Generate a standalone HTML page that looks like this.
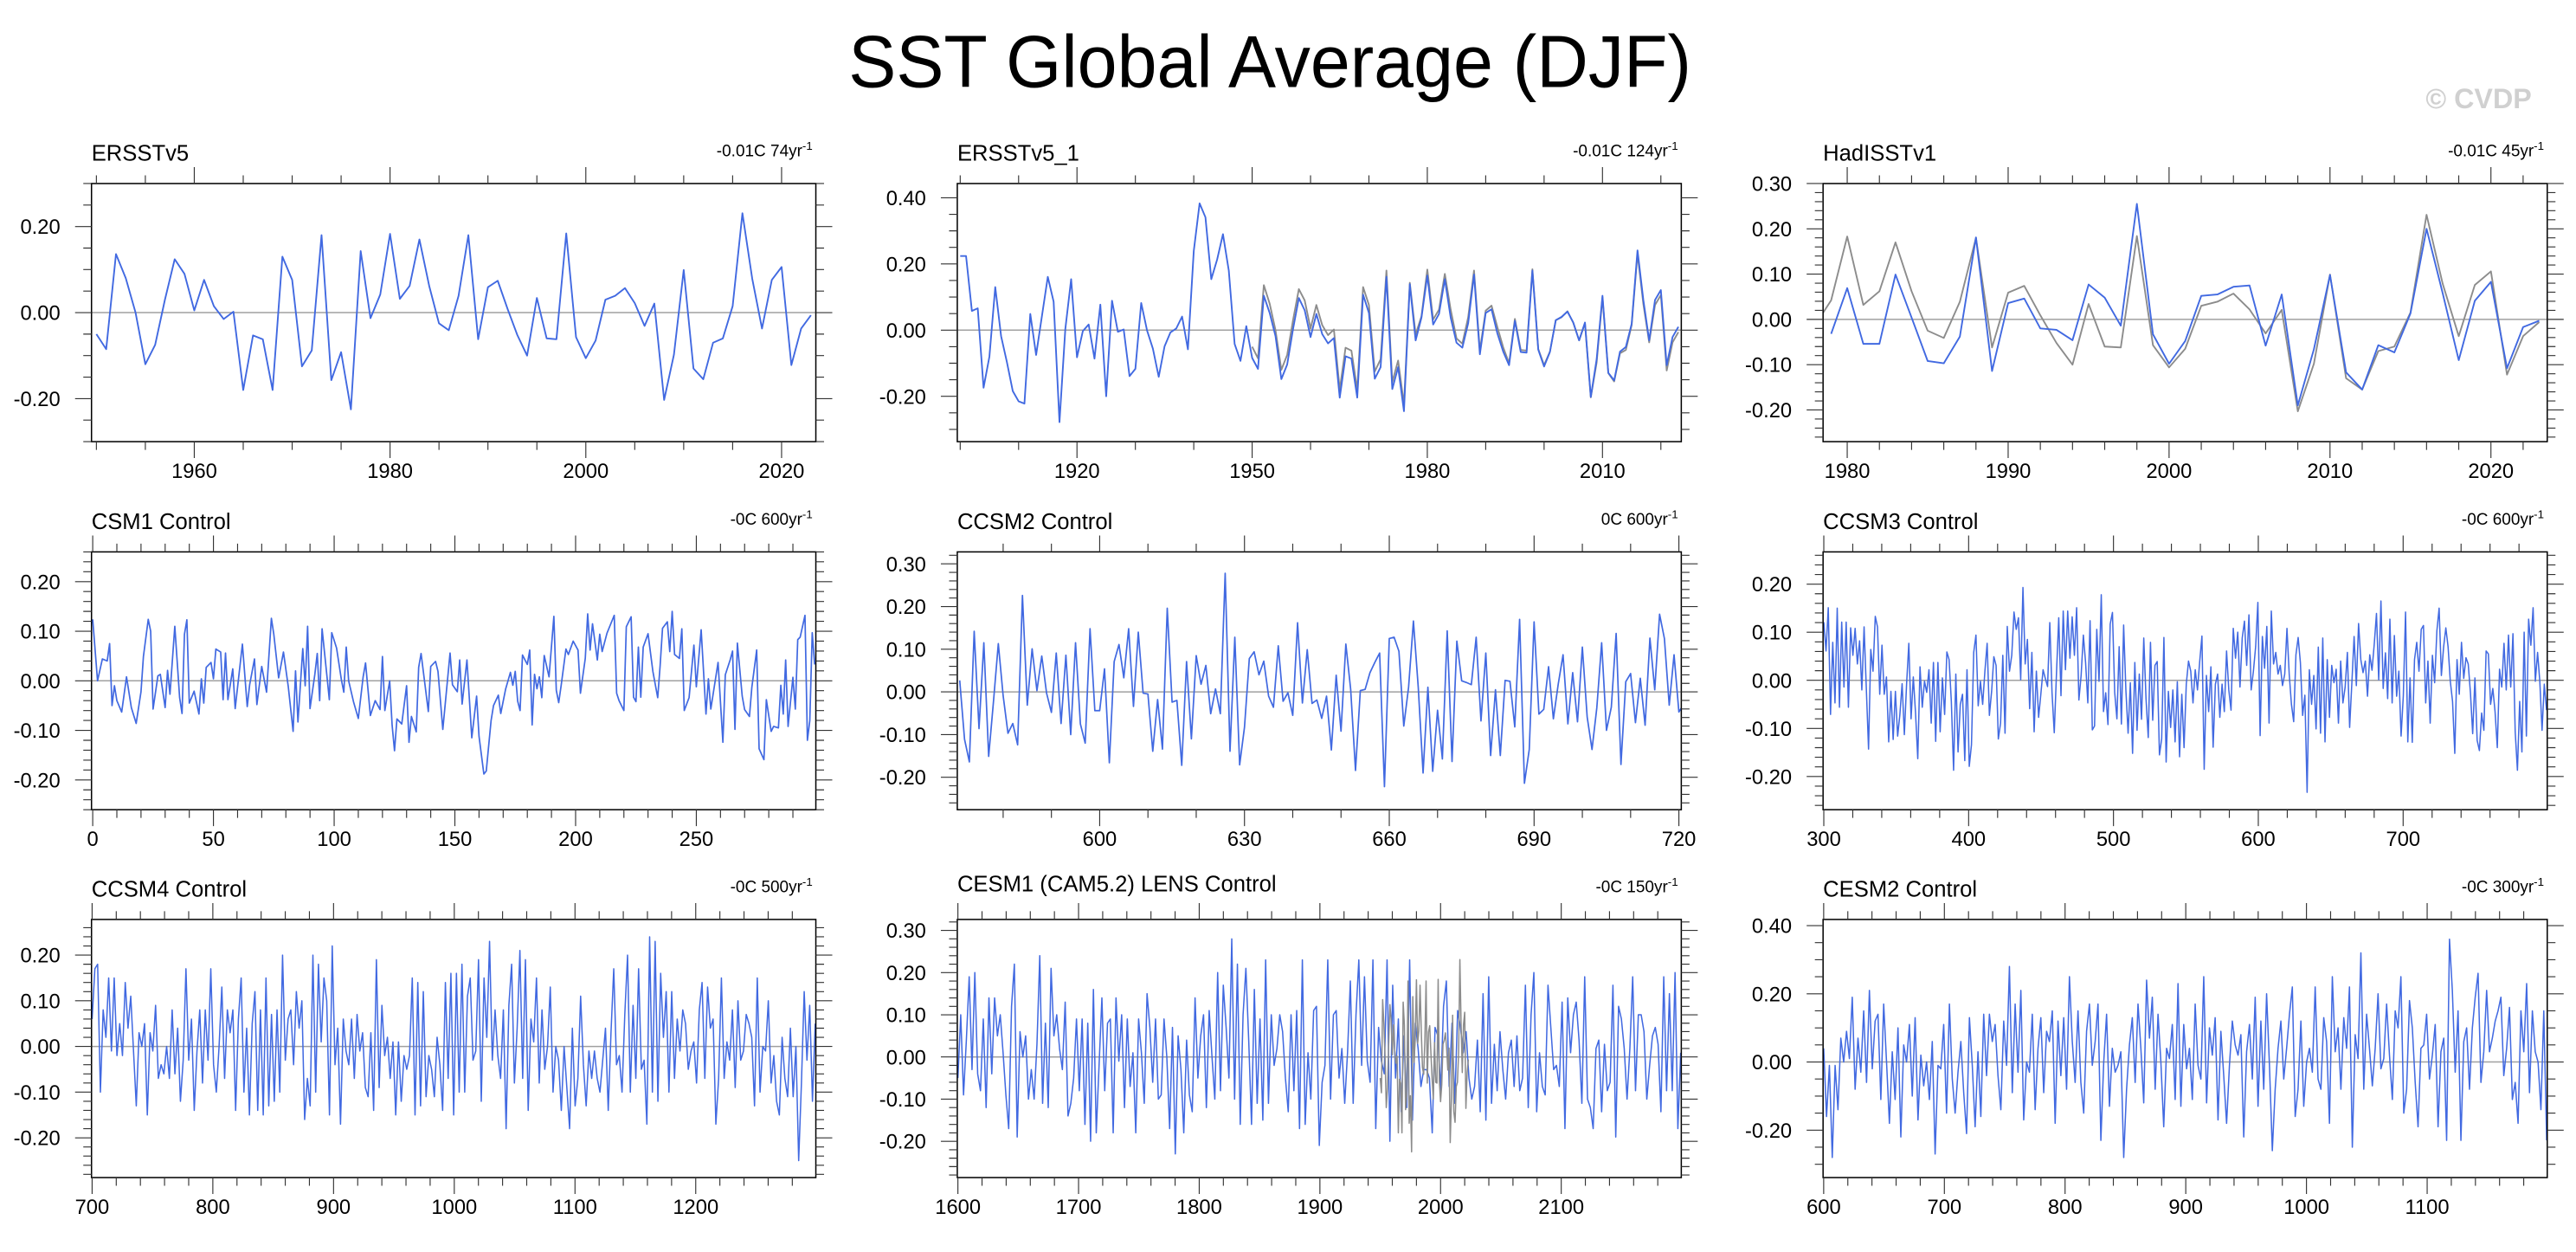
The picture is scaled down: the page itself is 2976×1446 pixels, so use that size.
<!DOCTYPE html>
<html><head><meta charset="utf-8"><title>SST Global Average (DJF)</title>
<style>html,body{margin:0;padding:0;background:#fff}svg{display:block}</style></head>
<body>
<svg id="fig" xmlns="http://www.w3.org/2000/svg" width="2976" height="1446" viewBox="0 0 1568 762" preserveAspectRatio="none" font-family="'Liberation Sans', Arial, sans-serif">
<rect x="0" y="0" width="1568" height="762" fill="#fff"/>
<text x="773" y="53" font-size="45" text-anchor="middle" textLength="513" lengthAdjust="spacingAndGlyphs" fill="#000">SST Global Average (DJF)</text>
<text x="1541" y="66" font-size="17" font-weight="bold" text-anchor="end" fill="#d0d0d0">© CVDP</text>
</svg>
<script>
// ---------------- data ----------------
const ersstStart = 1950;
const ersstVals = [-0.05,-0.085,0.136,0.08,0.0,-0.12,-0.075,0.03,0.124,0.09,0.005,0.076,0.015,-0.015,0.002,-0.18,-0.053,-0.062,-0.18,0.13,0.076,-0.125,-0.088,0.18,-0.157,-0.092,-0.225,0.143,-0.013,0.042,0.183,0.032,0.062,0.17,0.062,-0.025,-0.041,0.039,0.18,-0.062,0.059,0.074,0.009,-0.052,-0.1,0.034,-0.06,-0.062,0.184,-0.057,-0.106,-0.065,0.03,0.039,0.057,0.022,-0.031,0.021,-0.203,-0.098,0.099,-0.13,-0.155,-0.07,-0.06,0.015,0.231,0.079,-0.037,0.076,0.106,-0.122,-0.037,-0.006];

const ersst1Start = 1900;
const ersst1Vals = [0.224,0.224,0.058,0.066,-0.174,-0.08,0.13,-0.018,-0.097,-0.184,-0.215,-0.222,0.049,-0.075,0.043,0.161,0.086,-0.278,0.003,0.154,-0.082,-0.003,0.017,-0.086,0.077,-0.2,0.089,-0.005,0.002,-0.139,-0.117,0.082,-0.001,-0.056,-0.141,-0.049,-0.007,0.005,0.041,-0.058,0.239,0.383,0.341,0.154,0.213,0.29,0.18,-0.042,-0.093,0.012,-0.084,-0.117,0.104,0.052,-0.018,-0.148,-0.104,0.003,0.097,0.06,-0.021,0.049,-0.012,-0.04,-0.024,-0.204,-0.079,-0.086,-0.204,0.107,0.052,-0.147,-0.112,0.161,-0.178,-0.112,-0.245,0.139,-0.031,0.038,0.165,0.017,0.049,0.154,0.038,-0.038,-0.053,0.021,0.168,-0.073,0.052,0.063,-0.01,-0.065,-0.106,0.028,-0.066,-0.068,0.18,-0.059,-0.11,-0.066,0.03,0.04,0.056,0.023,-0.031,0.023,-0.202,-0.088,0.104,-0.129,-0.152,-0.065,-0.051,0.019,0.241,0.091,-0.031,0.091,0.121,-0.106,-0.021,0.01];

const hadStart = 1979;
const hadVals = [-0.032,0.069,-0.054,-0.054,0.099,0.004,-0.092,-0.097,-0.038,0.181,-0.114,0.036,0.046,-0.02,-0.023,-0.046,0.077,0.048,-0.014,0.255,-0.033,-0.098,-0.048,0.052,0.055,0.072,0.075,-0.058,0.055,-0.19,-0.066,0.098,-0.117,-0.155,-0.057,-0.073,0.013,0.2,0.058,-0.09,0.041,0.083,-0.108,-0.017,-0.003];

const csm1Years = [0,2,4,6,7,8,9,10,12,14,16,18,20,21,23,24,25,27,28,30,31,32,34,36,37,38,39,40,42,44,45,46,47,49,50,51,53,54,55,56,58,59,62,64,65,67,68,70,72,74,75,77,79,81,83,84,85,87,88,89,90,92,93,94,95,97,98,99,101,103,104,105,106,108,110,112,113,115,117,119,120,121,123,124,125,126,128,130,131,132,134,135,136,139,140,142,143,145,148,149,151,152,153,155,157,159,160,162,163,165,166,168,169,171,173,174,175,176,177,178,180,181,182,183,184,185,186,187,189,191,192,193,194,196,197,199,201,202,204,205,206,207,209,210,211,213,216,217,218,220,221,223,224,225,226,227,228,230,232,234,235,236,238,239,240,241,243,244,245,247,249,250,252,254,255,256,259,261,262,264,265,266,267,269,270,272,273,275,276,278,279,281,282,284,285,286,287,288,290,291,292,293,295,296,297,298,299];
const csm1Vals = [0.124,0,0.044,0.04,0.075,-0.05,-0.01,-0.04,-0.063,0.008,-0.054,-0.086,-0.022,0.049,0.124,0.1,-0.057,0.01,0.013,-0.054,0.021,-0.027,0.11,-0.034,-0.066,0.094,0.123,-0.045,-0.021,-0.067,0.004,-0.045,0.027,0.037,0.004,0.064,0.058,-0.038,0.056,-0.038,0.024,-0.056,0.074,-0.052,-0.008,0.044,-0.048,0.029,-0.023,0.126,0.094,0.006,0.058,-0.012,-0.102,0.02,-0.083,0.065,-0.01,0.11,-0.056,0.013,0.055,-0.04,0.105,0.01,-0.038,0.097,0.066,0.002,-0.023,0.068,0,-0.042,-0.076,0.008,0.036,-0.07,-0.04,-0.058,0.049,-0.06,0,-0.089,-0.141,-0.077,-0.087,-0.01,-0.124,-0.072,-0.103,0.027,0.055,-0.062,0.029,0.039,0.019,-0.098,0.056,-0.008,-0.022,0.042,-0.047,0.042,-0.115,-0.031,-0.112,-0.188,-0.182,-0.08,-0.05,-0.029,-0.066,-0.017,0.017,-0.009,0.019,-0.041,-0.06,0.052,0.033,0.062,-0.089,0.013,-0.016,0.008,-0.034,0.051,0.008,0.13,-0.019,-0.044,-0.01,0.064,0.053,0.08,0.062,-0.025,0.045,0.135,0.062,0.115,0.042,0.094,0.059,0.096,0.132,-0.025,-0.04,-0.06,0.109,0.129,-0.033,-0.042,0.068,-0.033,0.068,0.095,0.019,-0.034,0.03,0.106,0.119,0.059,0.14,0.053,0.045,0.105,-0.06,-0.034,0.072,-0.012,0.103,-0.067,0.004,-0.057,0.037,-0.124,0.012,0.042,0.06,-0.098,0.076,-0.031,-0.058,-0.072,-0.013,0.062,-0.137,-0.159,-0.038,-0.102,-0.092,-0.095,-0.009,-0.067,0.042,-0.092,0.007,-0.057,0.083,0.088,0.132,-0.12,-0.08,0.097,0.033];

const ccsm2Start = 571;
const ccsm2Vals = [0.027,-0.111,-0.164,0.142,-0.086,0.115,-0.151,-0.022,0.113,-0.009,-0.097,-0.074,-0.124,0.226,-0.031,0.101,0.003,0.084,-0.003,-0.048,0.091,-0.074,0.086,-0.1,0.115,-0.075,-0.12,0.148,-0.044,-0.044,0.054,-0.166,0.071,0.111,0.033,0.148,-0.034,0.14,-0.003,-0.005,-0.139,-0.018,-0.134,0.196,-0.024,-0.02,-0.172,0.071,-0.11,0.085,0.018,0.062,-0.051,0.007,-0.051,0.278,-0.139,0.128,-0.171,-0.083,0.078,0.094,0.04,0.072,-0.01,-0.036,0.108,-0.022,-0.002,-0.055,0.162,-0.026,0.099,-0.027,-0.019,-0.062,-0.01,-0.136,0.039,-0.092,0.112,0.006,-0.184,0.003,0.006,0.045,0.069,0.091,-0.222,0.125,0.128,0.095,-0.08,0.011,0.166,0.011,-0.19,0.011,-0.186,-0.043,-0.157,0.143,-0.163,0.119,0.026,0.022,0.017,0.128,-0.068,0.091,-0.149,0.005,-0.149,0.027,0.025,-0.082,0.17,-0.214,-0.135,0.164,-0.052,-0.041,0.059,-0.063,0.018,0.087,-0.075,0.045,-0.07,0.105,-0.059,-0.135,-0.037,0.115,-0.09,-0.036,0.137,-0.17,0.024,0.043,-0.072,0.032,-0.078,0.126,0.005,0.182,0.125,-0.031,0.087,-0.047,-0.029];

const ccsm3Start = 300, ccsm3End = 799;
const ccsm3Vals = [0.121,0.061,0.151,-0.071,0.079,-0.047,0.15,-0.056,0.121,-0.014,0.121,-0.056,0.109,0.052,0.108,0.034,0.082,-0.02,0.111,-0.017,-0.143,0.064,0.019,0.133,0.111,-0.029,0.073,-0.029,0.007,-0.128,-0.023,-0.123,-0.023,-0.116,-0.071,-0.007,-0.113,-0.008,0.077,-0.08,0.007,-0.068,-0.163,0.028,-0.056,-0.002,-0.025,0.022,-0.089,0.037,-0.127,0.037,-0.107,0.005,-0.071,0.059,0.043,-0.044,-0.187,0.013,-0.149,-0.05,-0.029,-0.167,0.022,-0.179,-0.134,0.058,0.094,-0.053,-0.002,-0.05,0.019,0.077,-0.073,-0.023,0.049,0.031,-0.122,-0.089,0.052,-0.11,0.112,0.019,0.052,0.142,0.106,0.13,0.001,0.193,0.034,0.085,-0.059,0.058,-0.107,0.019,-0.077,-0.029,0.022,0.004,-0.013,0.12,-0.026,-0.109,0.016,0.13,-0.032,0.144,0.022,0.144,0.046,0.132,0.052,0.151,-0.041,0.01,0.094,0.037,-0.047,0.124,-0.103,-0.095,0.106,-0.002,0.178,-0.065,-0.026,-0.092,0.117,0.141,-0.025,-0.08,0.07,-0.091,0.115,-0.02,-0.11,-0.005,-0.152,0.037,-0.104,0.013,-0.081,0.088,-0.038,-0.119,0.079,-0.083,0.031,0.039,-0.155,-0.122,0.089,-0.17,-0.023,-0.098,-0.02,-0.128,-0.003,-0.159,-0.029,-0.14,-0.008,0.04,0.019,-0.047,0.022,-0.02,0.039,0.092,-0.185,0.01,-0.065,0.028,-0.139,-0.008,0.013,-0.077,-0.008,-0.065,0.061,-0.02,-0.062,0.108,0.046,0.1,-0.014,0.088,0.123,0.031,0.136,-0.02,0.019,0.07,0.162,-0.115,0.091,0.025,0.112,-0.089,0.144,0.034,0.058,0.013,0.031,-0.011,0.013,0.108,0.013,-0.05,-0.086,0.053,0.089,0.037,-0.073,-0.031,-0.233,0.022,-0.05,0.01,-0.101,0.069,-0.11,0.088,-0.128,0.043,-0.077,0.031,-0.005,0.023,-0.089,0.04,-0.047,-0.014,0.058,-0.098,-0.005,0.091,-0.011,0.118,0.043,0.016,0.04,-0.033,0.053,0.021,0.075,0.139,0.001,0.165,-0.017,0.057,-0.038,0.127,-0.047,0.093,-0.033,0.019,-0.116,-0.032,0.142,-0.128,0.005,-0.129,0.043,0.079,0.019,0.106,0.114,-0.047,0.04,-0.089,0.052,-0.005,0.103,0.15,0.01,0.069,0.109,0.07,-0.002,-0.044,-0.152,0.043,-0.029,0.079,0.004,0.047,0.034,-0.026,-0.111,0.005,-0.125,-0.146,-0.068,-0.104,0.061,0.055,-0.05,-0.017,-0.065,-0.14,0.023,-0.014,0.077,-0.02,0.094,-0.014,0.097,-0.107,-0.187,-0.044,-0.149,0.1,-0.116,0.127,0.073,0.151,-0.002,0.058,-0.002,-0.104,-0.008,-0.062];

const ccsm4Start = 700, ccsm4End = 1299;
const ccsm4Vals = [0.06,0.17,0.18,-0.10,0.08,0.02,0.15,-0.01,0.15,-0.02,0.05,-0.02,0.14,0.04,0.11,-0.01,-0.13,0.03,0,0.05,-0.15,0.03,-0.01,0.09,-0.07,-0.04,-0.06,0,-0.07,0.08,-0.06,0.04,-0.12,-0.03,0.17,-0.03,0.06,-0.14,-0.01,0.08,-0.08,0.08,-0.03,0.17,-0.04,-0.10,0,0.13,-0.07,0.08,0.03,0.08,-0.14,0.06,0.15,-0.10,0.04,-0.15,0.05,0.12,-0.14,0.08,-0.15,0.15,-0.13,0.07,-0.12,0.08,-0.10,0.20,-0.03,0.06,0.08,-0.04,0.12,0.04,0.10,-0.16,-0.07,-0.13,0.20,-0.10,0.18,0.01,0.15,0.10,-0.15,0.22,-0.04,0.04,-0.17,0.06,-0.01,-0.04,0.06,-0.07,0.07,-0.01,0.03,-0.09,-0.11,0.03,-0.14,0.19,-0.09,0.09,-0.02,0.02,-0.07,0.01,-0.15,0.01,-0.12,-0.02,-0.05,-0.02,0.15,-0.15,0.14,-0.13,0.12,-0.11,-0.02,-0.05,-0.11,0.02,-0.04,-0.14,0.14,-0.07,0.16,-0.15,0.16,-0.10,0.18,-0.10,0.11,0.15,-0.03,-0.01,0.19,-0.12,0.15,0.02,0.23,-0.03,0.08,-0.02,-0.07,0.08,-0.18,0.09,0.18,-0.08,0.04,0.21,-0.07,0.19,-0.14,0.06,0.01,0.15,-0.08,0.08,-0.05,0,0.13,-0.10,0,-0.03,-0.14,0,-0.09,-0.18,0.04,-0.13,-0.07,0.11,-0.04,-0.13,-0.01,-0.07,-0.01,-0.07,-0.10,-0.03,0.04,-0.14,0.03,0.17,-0.04,-0.02,-0.10,0.07,0.20,-0.10,0.09,-0.07,0.17,-0.05,-0.03,-0.17,0.24,-0.10,0.23,-0.12,0.16,0.02,0.12,-0.10,0.12,-0.07,0.06,-0.01,0.08,0.05,-0.05,-0.01,0.01,-0.08,0.08,0.14,-0.07,0.13,0.04,0.06,-0.17,-0.07,0.15,-0.07,0.01,-0.03,0.08,-0.09,0.10,-0.03,-0.01,0.07,0.05,0.02,-0.13,0.15,-0.10,0,-0.01,0.10,-0.08,-0.02,-0.12,-0.15,0.02,-0.07,-0.11,0.04,-0.11,0,-0.25,-0.08,0.12,-0.03,0.09,-0.12,0.05];

const cesm1Start = 1600, cesm1End = 2199;
const cesm1Vals = [-0.05,0.10,-0.09,0.04,0.19,-0.03,0.20,-0.04,-0.08,0.09,-0.12,0.14,-0.04,0.14,0.05,0.10,0.01,-0.09,-0.17,0.12,0.22,-0.19,0.06,0,0.05,-0.10,-0.03,-0.10,0.03,0.24,-0.11,0.08,-0.12,0.21,0.05,0.10,0.02,-0.03,0.13,-0.14,-0.11,-0.05,0.09,-0.08,0.09,-0.16,0.08,-0.20,0.16,-0.18,-0.02,0.14,-0.08,0.08,0.09,-0.18,0.14,-0.01,0.10,-0.12,0.09,-0.07,0.01,-0.18,0.09,0.01,-0.11,0.15,0.07,-0.06,0.09,-0.10,-0.09,0.09,0,-0.17,0.07,-0.23,0.05,-0.03,-0.18,0.04,-0.09,-0.13,0.14,-0.05,0.05,0.10,-0.12,0.11,0,-0.10,0.20,-0.08,0.17,0.07,-0.05,0.28,-0.10,0.22,-0.16,0.10,0.21,0.04,-0.16,0.16,-0.11,0.09,-0.15,0.23,-0.11,0.10,-0.02,0.02,0.10,0.06,-0.05,-0.13,0.10,-0.08,0.11,-0.17,0.23,-0.16,0.01,-0.10,0.11,0.12,-0.21,-0.06,-0.02,0.23,-0.10,0.10,0.11,-0.05,0.02,-0.11,0.01,0.18,-0.11,0.10,0.23,-0.02,0.19,-0.01,-0.06,0.23,-0.17,0.07,-0.01,-0.04,0.23,-0.20,0.17,-0.05,0.09,-0.13,0.05,-0.12,0.23,-0.15,0.08,0.02,-0.07,-0.03,-0.03,-0.05,-0.18,0.07,0.05,-0.08,0.12,0.18,-0.07,0.08,-0.11,0.11,0.07,0.01,0.06,-0.05,-0.10,-0.07,0.04,-0.13,0.15,-0.15,0.19,-0.11,0.03,-0.08,0.06,-0.03,-0.10,0.01,0.04,-0.07,0.05,-0.08,-0.05,0.17,-0.12,0.10,0.20,-0.13,0.01,-0.07,-0.09,0.17,0.07,-0.03,-0.02,-0.07,0.13,-0.17,0.14,0.01,0.10,0.13,0.04,-0.11,0.19,-0.10,-0.12,-0.17,0.02,0.04,-0.13,0.03,-0.08,-0.06,0.17,-0.19,0.12,0.09,0.02,-0.10,0.02,0.19,-0.08,0.10,0.10,0.06,-0.10,-0.02,0.05,0.07,0.03,-0.13,0.19,-0.08,0.15,-0.08,0.20,-0.17,0.01];

const cesm2Start = 600, cesm2End = 1199;
const cesm2Vals = [0.04,-0.16,-0.01,-0.28,-0.01,-0.14,0.07,0,0.09,0.01,0.19,-0.08,0.07,-0.03,0.15,-0.06,0.21,-0.02,0.12,0.14,-0.11,0.17,0,-0.18,0.03,-0.11,0.10,-0.22,0.05,0,0.11,-0.10,0.13,-0.17,0.02,-0.07,0,-0.11,0.06,-0.27,-0.01,-0.02,0.11,-0.15,0.17,-0.05,-0.15,-0.03,0.06,-0.09,-0.21,0.13,-0.01,-0.19,0.03,-0.16,0.14,-0.04,0.14,0.06,0.11,-0.04,-0.14,0.12,-0.01,0.28,-0.09,0.17,-0.03,0.21,-0.17,0,-0.03,0.14,-0.14,0.04,0.13,-0.09,0.09,0.06,0.15,-0.18,0.12,-0.04,0.13,-0.08,0.25,0.06,-0.06,0.15,-0.06,-0.15,0.09,0.17,-0.01,0.06,0.17,-0.23,0,0.14,-0.13,0.04,-0.03,-0.01,0.03,-0.28,-0.08,0.05,0.13,-0.06,0.17,0.04,-0.12,0.24,0.07,0.19,-0.08,0.14,0,-0.19,0.04,0.01,0.11,-0.11,0.23,-0.13,0.11,-0.02,0.04,-0.11,0.17,-0.01,-0.05,0.25,-0.12,0.10,0.02,0.13,-0.17,0.09,-0.04,-0.18,-0.01,0.12,0.05,0.02,0.08,-0.22,0.03,0.11,-0.05,0.19,-0.13,0.12,-0.08,0.20,-0.01,-0.26,-0.08,0.04,0.12,-0.05,0.04,0.14,0.22,-0.16,-0.08,0.12,-0.13,0,0.04,-0.03,0.22,-0.05,-0.08,0.13,0.06,-0.18,0.25,0.03,0.10,-0.08,0.13,0.04,0.22,-0.25,0.08,0.01,0.32,-0.08,0.14,0.04,-0.07,0.04,0.20,-0.02,0.01,0.17,0.02,-0.11,0.15,0.10,0.25,-0.15,-0.08,0.18,0.10,-0.06,-0.19,0.04,0.05,0.14,-0.05,0.02,0.11,-0.19,0.03,0.07,-0.23,0.36,0.21,-0.03,0.15,-0.23,0.06,0.10,-0.08,0.10,0.19,0.26,-0.06,0.03,0.21,0.03,0.07,0.12,0.15,0.19,-0.04,0.04,0.16,-0.11,-0.06,-0.18,0.15,0.03,0.23,-0.09,0.15,0.03,0,-0.14,0.15,-0.23];

// ---------------- rendering ----------------
const NS = 'http://www.w3.org/2000/svg';
const svg = document.getElementById('fig');
function mk(tag, parent) { const e = document.createElementNS(NS, tag); parent.appendChild(e); return e; }
function ticksFor(min, max, step) { const out = []; let v = Math.ceil((min - 1e-9) / step) * step; for (; v <= max + 1e-9; v += step) out.push(Math.round(v * 10000) / 10000); return out; }
function seqYears(start, end, n) { const out = []; for (let i = 0; i < n; i++) out.push(n > 1 ? start + (end - start) * i / (n - 1) : start); return out; }
function startYears(start, n) { const out = []; for (let i = 0; i < n; i++) out.push(start + i); return out; }

const cols = [[55.7, 496.6], [582.7, 1023.4], [1109.7, 1550.5]];
const rows = [[111.7, 268.8], [335.9, 492.8], [559.6, 716.7]];

const panels = [
 {name:'ersstv5', title:'ERSSTv5', trend:'-0.01C 74yr', c:0, r:0, x:[1949.5,2023.5], y:[-0.3,0.3], xMaj:20, xMin:5, yMaj:0.2, yMin:0.05, lw:1.0,
  series:[{name:'ersstv5-line', x:startYears(ersstStart, ersstVals.length), v:ersstVals, color:'#4169e1'}]},
 {name:'ersstv5-1', title:'ERSSTv5_1', trend:'-0.01C 124yr', c:1, r:0, x:[1899.5,2023.5], y:[-0.337,0.443], xMaj:30, xMin:10, yMaj:0.2, yMin:0.05, lw:1.0,
  series:[{name:'ersstv5-reference-line', x:startYears(ersstStart, ersstVals.length), v:ersstVals, color:'#8c8c8c'},
          {name:'ersstv5-1-line', x:startYears(ersst1Start, ersst1Vals.length), v:ersst1Vals, color:'#4169e1'}]},
 {name:'hadisstv1', title:'HadISSTv1', trend:'-0.01C 45yr', c:2, r:0, x:[1978.5,2023.5], y:[-0.27,0.30], xMaj:10, xMin:2, yMaj:0.1, yMin:0.02, lw:1.0,
  series:[{name:'ersstv5-reference-line', x:startYears(ersstStart, ersstVals.length), v:ersstVals, color:'#8c8c8c'},
          {name:'hadisstv1-line', x:startYears(hadStart, hadVals.length), v:hadVals, color:'#4169e1'}]},
 {name:'csm1-control', title:'CSM1 Control', trend:'-0C 600yr', c:0, r:1, x:[-0.5,299.5], y:[-0.26,0.26], xMaj:50, xMin:10, yMaj:0.1, yMin:0.02, lw:0.9,
  series:[{name:'csm1-line', x:csm1Years, v:csm1Vals, color:'#4169e1'}]},
 {name:'ccsm2-control', title:'CCSM2 Control', trend:'0C 600yr', c:1, r:1, x:[570.5,720.5], y:[-0.276,0.328], xMaj:30, xMin:10, yMaj:0.1, yMin:0.02, lw:0.9,
  series:[{name:'ccsm2-line', x:startYears(ccsm2Start, ccsm2Vals.length), v:ccsm2Vals, color:'#4169e1'}]},
 {name:'ccsm3-control', title:'CCSM3 Control', trend:'-0C 600yr', c:2, r:1, x:[299.5,799.5], y:[-0.269,0.267], xMaj:100, xMin:20, yMaj:0.1, yMin:0.02, lw:0.8,
  series:[{name:'ccsm3-line', x:seqYears(ccsm3Start, ccsm3End, ccsm3Vals.length), v:ccsm3Vals, color:'#4169e1'}]},
 {name:'ccsm4-control', title:'CCSM4 Control', trend:'-0C 500yr', c:0, r:2, x:[699.5,1299.5], y:[-0.287,0.278], xMaj:100, xMin:20, yMaj:0.1, yMin:0.02, lw:0.8,
  series:[{name:'ccsm4-line', x:seqYears(ccsm4Start, ccsm4End, ccsm4Vals.length), v:ccsm4Vals, color:'#4169e1'}]},
 {name:'cesm1-lens-control', title:'CESM1 (CAM5.2) LENS Control', trend:'-0C 150yr', c:1, r:2, x:[1599.5,2199.5], y:[-0.286,0.326], xMaj:100, xMin:20, yMaj:0.1, yMin:0.02, lw:0.8, titleDy:-3,
  series:[{name:'cesm1-line', x:seqYears(cesm1Start, cesm1End, cesm1Vals.length), v:cesm1Vals, color:'#4169e1'},
          {name:'ersstv5-reference-line', x:startYears(ersstStart, ersstVals.length), v:ersstVals, color:'#8c8c8c'}]},
 {name:'cesm2-control', title:'CESM2 Control', trend:'-0C 300yr', c:2, r:2, x:[599.5,1199.5], y:[-0.339,0.418], xMaj:100, xMin:20, yMaj:0.2, yMin:0.05, lw:0.8,
  series:[{name:'cesm2-line', x:seqYears(cesm2Start, cesm2End, cesm2Vals.length), v:cesm2Vals, color:'#4169e1'}]}
];

panels.forEach(function (p, pi) {
  const L = cols[p.c][0], R = cols[p.c][1], T = rows[p.r][0], B = rows[p.r][1];
  const xs = function (v) { return L + (v - p.x[0]) / (p.x[1] - p.x[0]) * (R - L); };
  const ys = function (v) { return B - (v - p.y[0]) / (p.y[1] - p.y[0]) * (B - T); };
  const g = mk('g', svg);
  
  

  const clip = mk('clipPath', g);
  clip.setAttribute('id', 'clip' + pi);
  const cr = mk('rect', clip);
  cr.setAttribute('x', L); cr.setAttribute('y', T); cr.setAttribute('width', R - L); cr.setAttribute('height', B - T);

  const t = mk('text', g);
  
  
  t.setAttribute('x', L); t.setAttribute('y', T - 14 + (p.titleDy || 0));
  t.setAttribute('font-size', '13.5');
  t.textContent = p.title;

  const tr = mk('text', g);
  
  
  tr.setAttribute('x', R - 2); tr.setAttribute('y', T - 16.5);
  tr.setAttribute('font-size', '10');
  tr.setAttribute('text-anchor', 'end');
  const t1 = mk('tspan', tr); t1.textContent = p.trend;
  const t2 = mk('tspan', tr); t2.setAttribute('font-size', '7'); t2.setAttribute('dy', '-4'); t2.textContent = '-1';

  const z = mk('line', g);
  
  
  z.setAttribute('x1', L); z.setAttribute('x2', R); z.setAttribute('y1', ys(0)); z.setAttribute('y2', ys(0));
  z.setAttribute('stroke', '#a0a0a0'); z.setAttribute('stroke-width', '0.8');

  p.series.forEach(function (s) {
    const n = Math.min(s.x.length, s.v.length);
    let d = '';
    for (let i = 0; i < n; i++) d += (i ? 'L' : 'M') + xs(s.x[i]).toFixed(2) + ' ' + ys(s.v[i]).toFixed(2);
    const path = mk('path', g);
    
    
    path.setAttribute('d', d);
    path.setAttribute('fill', 'none');
    path.setAttribute('stroke', s.color);
    path.setAttribute('stroke-width', p.lw);
    path.setAttribute('stroke-linejoin', 'round');
    path.setAttribute('clip-path', 'url(#clip' + pi + ')');
  });

  const fr = mk('rect', g);
  
  
  fr.setAttribute('x', L); fr.setAttribute('y', T); fr.setAttribute('width', R - L); fr.setAttribute('height', B - T);
  fr.setAttribute('fill', 'none'); fr.setAttribute('stroke', '#000'); fr.setAttribute('stroke-width', '0.8');

  let td = '';
  ticksFor(p.x[0], p.x[1], p.xMin).forEach(function (v) { const x = xs(v); td += 'M' + x + ' ' + T + 'v-5M' + x + ' ' + B + 'v5'; });
  ticksFor(p.x[0], p.x[1], p.xMaj).forEach(function (v) { const x = xs(v); td += 'M' + x + ' ' + T + 'v-10M' + x + ' ' + B + 'v10'; });
  ticksFor(p.y[0], p.y[1], p.yMin).forEach(function (v) { const y = ys(v); td += 'M' + L + ' ' + y + 'h-5M' + R + ' ' + y + 'h5'; });
  ticksFor(p.y[0], p.y[1], p.yMaj).forEach(function (v) { const y = ys(v); td += 'M' + L + ' ' + y + 'h-10M' + R + ' ' + y + 'h10'; });
  const tk = mk('path', g);
  
  
  tk.setAttribute('d', td); tk.setAttribute('stroke', '#333'); tk.setAttribute('stroke-width', '0.6'); tk.setAttribute('fill', 'none');

  ticksFor(p.x[0], p.x[1], p.xMaj).forEach(function (v) {
    const lb = mk('text', g);
    
    
    lb.setAttribute('x', xs(v)); lb.setAttribute('y', B + 22);
    lb.setAttribute('font-size', '12.5'); lb.setAttribute('text-anchor', 'middle');
    lb.textContent = String(Math.round(v));
  });
  ticksFor(p.y[0], p.y[1], p.yMaj).forEach(function (v) {
    const lb = mk('text', g);
    
    
    lb.setAttribute('x', L - 19); lb.setAttribute('y', ys(v) + 4.5);
    lb.setAttribute('font-size', '12.5'); lb.setAttribute('text-anchor', 'end');
    lb.textContent = (Math.abs(v) < 1e-9 ? 0 : v).toFixed(2);
  });
});
</script>
</body></html>
